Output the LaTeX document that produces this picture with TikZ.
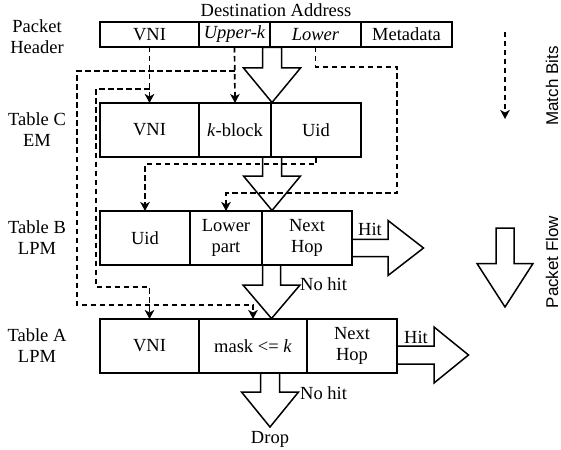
\documentclass[tikz,border=0pt]{standalone}
\usepackage{fontspec}
\setmainfont{Liberation Serif}
\newfontfamily\seriffont{Liberation Serif}
\newfontfamily\legendfont{Liberation Sans}
\usetikzlibrary{arrows.meta}
\tikzset{
  cell/.style={draw, line width=1.5pt, inner sep=0pt, outer sep=0pt, align=center,
    font=\seriffont\fontsize{18.5}{21}\selectfont},
  lbl/.style={inner sep=0pt, align=center, font=\seriffont\fontsize{18.5}{21}\selectfont},
  legend/.style={inner sep=0pt, rotate=90, font=\legendfont\fontsize{17}{20}\selectfont},
  match/.style={line width=1.7pt, dash pattern=on 5.5pt off 3.5pt,
    -{Stealth[length=9pt,width=9.5pt,inset=2.5pt]}},
  bigarrow/.style={draw, fill=white, line width=1.5pt, line join=miter},
}
\newcommand{\vflow}[6]{% x, ytop, yneck, ytip, shafthalf, headhalf
  \draw[bigarrow] (#1-#5,#2) -- (#1-#5,#3) -- (#1-#6,#3) -- (#1,#4) -- (#1+#6,#3) -- (#1+#5,#3) -- (#1+#5,#2) -- cycle;}
\newcommand{\hflow}[6]{% y, xleft, xneck, xtip, shafthalf, headhalf
  \draw[bigarrow] (#2,#1-#5) -- (#3,#1-#5) -- (#3,#1-#6) -- (#4,#1) -- (#3,#1+#6) -- (#3,#1+#5) -- (#2,#1+#5) -- cycle;}
\begin{document}
\begin{tikzpicture}[x=1pt,y=-1pt]
\useasboundingbox (0,0) rectangle (561,449);

% left labels
\node[lbl] (lH) at (37,37) {Packet\\Header};
\node[lbl] (lC) at (37,130) {Table C\\EM};
\node[lbl] (lB) at (37,238) {Table B\\LPM};
\node[lbl] (lA) at (37,346) {Table A\\LPM};

% header
\node[lbl, anchor=base] (dest) at (276,17) {Destination Address};
\node[cell, minimum width=99pt, minimum height=25pt] (hVNI) at (149.5,34.5) {VNI};
\node[cell, minimum width=71pt, minimum height=25pt] (hUp) at (234.5,34.5) {\itshape Upper-k};
\node[cell, minimum width=91pt, minimum height=25pt] (hLow) at (315.5,34.5) {\itshape Lower};
\node[cell, minimum width=91pt, minimum height=25pt] (hMeta) at (406.5,34.5) {Metadata};

% Table C
\node[cell, minimum width=99pt, minimum height=54pt] (cVNI) at (149.5,130) {VNI};
\node[cell, minimum width=72pt, minimum height=54pt] (cK) at (235,130) {\textit{k}-block};
\node[cell, minimum width=90pt, minimum height=54pt] (cUid) at (316,130) {Uid};

% Table B
\node[cell, minimum width=90pt, minimum height=54pt] (bUid) at (145,238) {Uid};
\node[cell, minimum width=72pt, minimum height=54pt] (bLow) at (226,238) {Lower\\part};
\node[cell, minimum width=90pt, minimum height=54pt] (bNext) at (307,238) {Next\\Hop};

% Table A
\node[cell, minimum width=99pt, minimum height=54pt] (aVNI) at (149.5,346) {VNI};
\node[cell, minimum width=108pt, minimum height=54pt] (aMask) at (253,346) {mask <= \textit{k}};
\node[cell, minimum width=90pt, minimum height=54pt] (aNext) at (352,346) {Next\\Hop};

% packet flow arrows
\vflow{272}{47.5}{68}{102.5}{9.5}{28.5}
\vflow{272}{157}{176}{210.5}{9.5}{28.5}
\vflow{271.5}{265}{285}{318.5}{9}{28.5}
\vflow{270}{373}{392}{427}{9.5}{28.5}
\hflow{248}{352}{388}{423.5}{8.7}{27.5}
\hflow{355}{397}{434}{468.5}{9}{28}

% flow labels
\node[lbl] (hitB) at (370,229) {Hit};
\node[lbl] (hitA) at (416,337) {Hit};
\node[lbl, anchor=west] (nhB) at (300,284) {No hit};
\node[lbl, anchor=west] (nhA) at (300,393) {No hit};
\node[lbl] (drop) at (270,439) {Drop};

% match bits
\coordinate (j1) at (234.5,71);
\coordinate (j2) at (149.5,89);
\draw[match] (hVNI.south) -- (cVNI.north);
\draw[match] (hUp.south) -- (cK.north);
\draw[match] (j1) -| (77,305) -| (aMask.north);
\draw[match] (j2) -| (96,287) -| (aVNI.north);
\draw[match] (hLow.south) |- (397,67) -- (397,193) -| (bLow.north);
\draw[match] (cUid.south) -- (316,164) -| (bUid.north);

% legend
\coordinate (m1) at (505,32);
\coordinate (m2) at (505,119);
\draw[match] (m1) -- (m2);
\node[legend] (mtxt) at (552,86) {Match Bits};
\vflow{505}{228}{263.5}{307}{9}{28}
\node[legend] (ptxt) at (552,262) {Packet Flow};
\end{tikzpicture}
\end{document}
